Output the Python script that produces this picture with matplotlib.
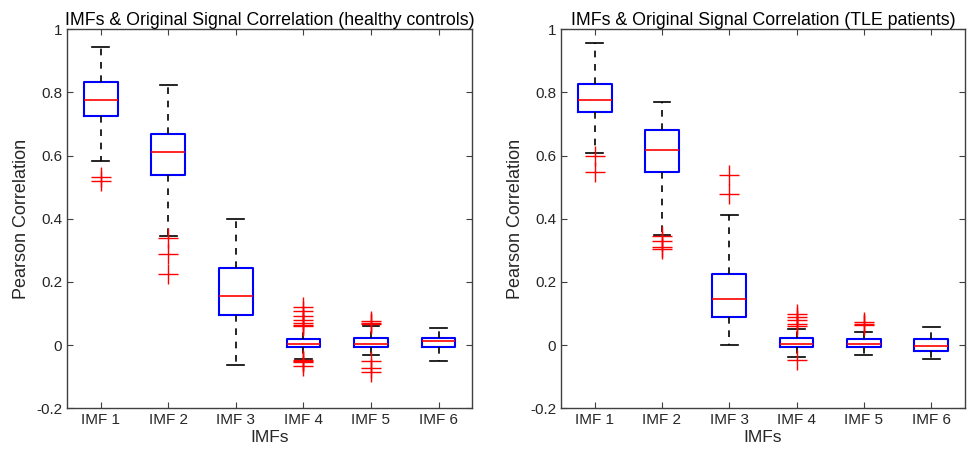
import matplotlib.pyplot as plt

plt.rcParams['font.family'] = ['Liberation Sans', 'DejaVu Sans']

labels = ['IMF 1', 'IMF 2', 'IMF 3', 'IMF 4', 'IMF 5', 'IMF 6']

# healthy controls: box stats
hc_med = [0.776, 0.613, 0.157, 0.003, 0.005, 0.014]
hc_q1 = [0.726, 0.540, 0.095, -0.007, -0.007, -0.007]
hc_q3 = [0.832, 0.669, 0.244, 0.019, 0.021, 0.024]
hc_lo = [0.583, 0.347, -0.064, -0.043, -0.030, -0.049]
hc_hi = [0.943, 0.824, 0.398, 0.060, 0.060, 0.053]
hc_out = [
    [0.531, 0.519],
    [0.339, 0.287, 0.226],
    [],
    [0.120, 0.107, 0.093, 0.081, 0.071, 0.065, 0.062, -0.047, -0.050, -0.052, -0.065],
    [0.075, 0.071, 0.067, -0.049, -0.073, -0.084],
    [],
]

# TLE patients
tle_med = [0.776, 0.618, 0.147, 0.005, 0.003, -0.003]
tle_q1 = [0.739, 0.548, 0.088, -0.005, -0.007, -0.018]
tle_q3 = [0.826, 0.681, 0.226, 0.021, 0.018, 0.018]
tle_lo = [0.607, 0.349, 0.000, -0.037, -0.031, -0.044]
tle_hi = [0.956, 0.770, 0.413, 0.052, 0.040, 0.058]
tle_out = [
    [0.600, 0.547],
    [0.345, 0.330, 0.310, 0.305],
    [0.540, 0.480],
    [0.100, 0.089, 0.079, 0.068, 0.061, -0.048],
    [0.073, 0.068, 0.065],
    [],
]

titles = ['IMFs & Original Signal Correlation (healthy controls)',
          'IMFs & Original Signal Correlation (TLE patients)']


def make_stats(med, q1, q3, lo, hi, out):
    stats = []
    for i in range(len(med)):
        stats.append({'med': med[i], 'q1': q1[i], 'q3': q3[i],
                      'whislo': lo[i], 'whishi': hi[i], 'fliers': out[i]})
    return stats


fig = plt.figure(figsize=(9.73, 4.54), dpi=100)
ax1 = fig.add_axes([0.0689, 0.1007, 0.4165, 0.8348])
ax2 = fig.add_axes([0.5766, 0.1007, 0.4150, 0.8348])

groups = [
    make_stats(hc_med, hc_q1, hc_q3, hc_lo, hc_hi, hc_out),
    make_stats(tle_med, tle_q1, tle_q3, tle_lo, tle_hi, tle_out),
]

txt = '#262626'
for ax, st, title in zip([ax1, ax2], groups, titles):
    ax.bxp(st, widths=0.5,
           boxprops=dict(color='blue', linewidth=1.5),
           medianprops=dict(color='red', linewidth=1.2),
           whiskerprops=dict(color='black', linestyle=(0, (4, 4)), linewidth=1.2),
           capprops=dict(color='black', linewidth=1.2),
           capwidths=0.25,
           flierprops=dict(marker='+', markeredgecolor='red', markersize=14,
                           markeredgewidth=1.0, linestyle='none'))
    ax.set_xlim(0.5, 6.5)
    ax.set_ylim(-0.2, 1.0)
    ax.set_yticks([-0.2, 0, 0.2, 0.4, 0.6, 0.8, 1])
    ax.set_yticklabels(['-0.2', '0', '0.2', '0.4', '0.6', '0.8', '1'])
    ax.set_xticks(range(1, 7))
    ax.set_xticklabels(labels)
    ax.tick_params(direction='in', top=True, right=True, length=4,
                   labelsize=11, colors='#404040', labelcolor=txt)
    for s in ax.spines.values():
        s.set_color('#404040')
        s.set_linewidth(1.0)
    ax.set_title(title, fontsize=12.8, color='black', pad=3)
    ax.set_xlabel('IMFs', fontsize=12.5, color=txt, labelpad=2)
    ax.set_ylabel('Pearson Correlation', fontsize=13, color=txt, labelpad=4)

fig.savefig('out.png', dpi=100)
